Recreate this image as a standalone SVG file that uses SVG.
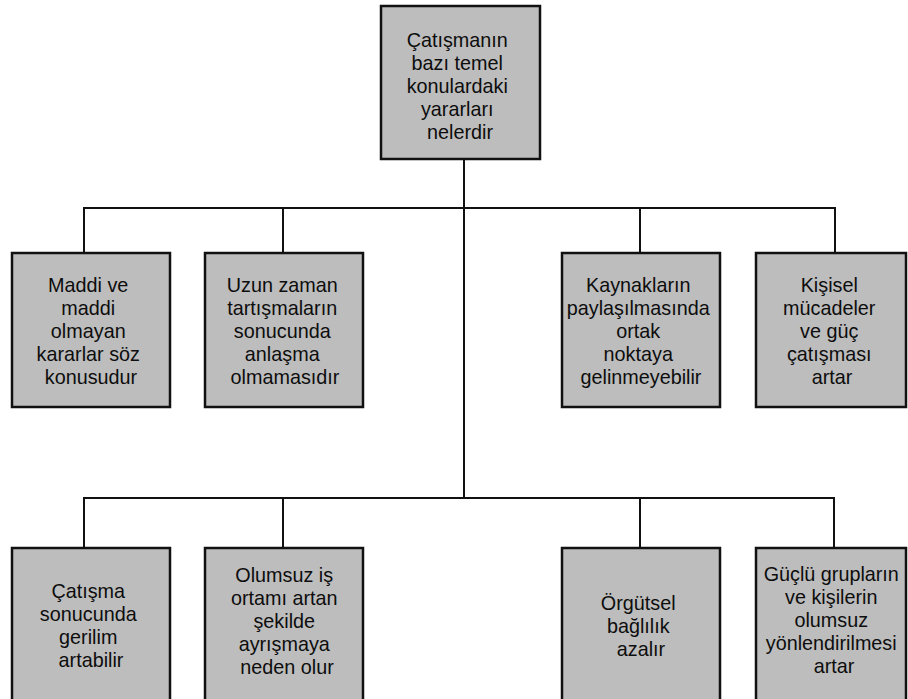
<svg xmlns="http://www.w3.org/2000/svg" width="908" height="699" viewBox="0 0 908 699">
  <style>
    .box { fill: #bdbdbd; stroke: #111; stroke-width: 2.5; }
    .lbl { font-family: "Liberation Sans", Arial, sans-serif; font-size: 19.8px; fill: #0d0d0d; text-anchor: middle; }
    .wire { fill: none; stroke: #111; stroke-width: 2; }
  </style>
  <rect width="908" height="699" fill="#fff"/>

  <g id="connectors">
    <path class="wire" d="M464 159 V498"/>
    <path class="wire" d="M84 253 V208 H835 V253 M283 208 V253 M640 208 V253"/>
    <path class="wire" d="M84 548 V498 H834 V548 M283 498 V548 M640 498 V548"/>
  </g>

  <g id="root">
    <rect class="box" x="381" y="6" width="159" height="153"/>
    <text class="lbl">
      <tspan x="460" y="47">Çatışmanın</tspan>
      <tspan x="460" y="70">bazı temel</tspan>
      <tspan x="460" y="93">konulardaki</tspan>
      <tspan x="460" y="116">yararları</tspan>
      <tspan x="460" y="139">nelerdir</tspan>
    </text>
  </g>

  <g id="n1">
    <rect class="box" x="12" y="253" width="158" height="154"/>
    <text class="lbl">
      <tspan x="91" y="292">Maddi ve</tspan>
      <tspan x="91" y="315">maddi</tspan>
      <tspan x="91" y="338">olmayan</tspan>
      <tspan x="91" y="361">kararlar söz</tspan>
      <tspan x="91" y="384">konusudur</tspan>
    </text>
  </g>

  <g id="n2">
    <rect class="box" x="205" y="253" width="158" height="154"/>
    <text class="lbl">
      <tspan x="285" y="292">Uzun zaman</tspan>
      <tspan x="285" y="315">tartışmaların</tspan>
      <tspan x="285" y="338">sonucunda</tspan>
      <tspan x="285" y="361">anlaşma</tspan>
      <tspan x="285" y="384">olmamasıdır</tspan>
    </text>
  </g>

  <g id="n3">
    <rect class="box" x="562" y="253" width="158" height="154"/>
    <text class="lbl">
      <tspan x="641" y="292">Kaynakların</tspan>
      <tspan x="641" y="315">paylaşılmasında</tspan>
      <tspan x="641" y="338">ortak</tspan>
      <tspan x="641" y="361">noktaya</tspan>
      <tspan x="641" y="384">gelinmeyebilir</tspan>
    </text>
  </g>

  <g id="n4">
    <rect class="box" x="756" y="253" width="150" height="154"/>
    <text class="lbl">
      <tspan x="832" y="292">Kişisel</tspan>
      <tspan x="832" y="315">mücadeler</tspan>
      <tspan x="832" y="338">ve güç</tspan>
      <tspan x="832" y="361">çatışması</tspan>
      <tspan x="832" y="384">artar</tspan>
    </text>
  </g>

  <g id="n5">
    <rect class="box" x="12" y="548" width="158" height="160"/>
    <text class="lbl">
      <tspan x="91" y="598">Çatışma</tspan>
      <tspan x="91" y="621">sonucunda</tspan>
      <tspan x="91" y="644">gerilim</tspan>
      <tspan x="91" y="667">artabilir</tspan>
    </text>
  </g>

  <g id="n6">
    <rect class="box" x="205" y="548" width="158" height="160"/>
    <text class="lbl">
      <tspan x="287" y="582">Olumsuz iş</tspan>
      <tspan x="287" y="605">ortamı artan</tspan>
      <tspan x="287" y="628">şekilde</tspan>
      <tspan x="287" y="651">ayrışmaya</tspan>
      <tspan x="287" y="674">neden olur</tspan>
    </text>
  </g>

  <g id="n7">
    <rect class="box" x="562" y="548" width="158" height="160"/>
    <text class="lbl">
      <tspan x="641" y="610">Örgütsel</tspan>
      <tspan x="641" y="633">bağlılık</tspan>
      <tspan x="641" y="656">azalır</tspan>
    </text>
  </g>

  <g id="n8">
    <rect class="box" x="756" y="548" width="150" height="160"/>
    <text class="lbl">
      <tspan x="834" y="581">Güçlü grupların</tspan>
      <tspan x="834" y="604">ve kişilerin</tspan>
      <tspan x="834" y="627">olumsuz</tspan>
      <tspan x="834" y="650">yönlendirilmesi</tspan>
      <tspan x="834" y="673">artar</tspan>
    </text>
  </g>
</svg>
